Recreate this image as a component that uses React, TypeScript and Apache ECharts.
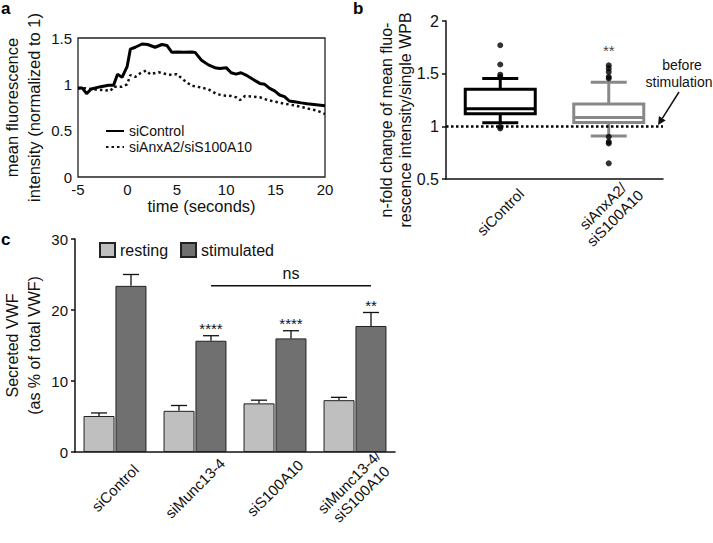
import React, { useEffect, useRef } from 'react';
import * as echarts from 'echarts';

const FONT = "'Liberation Sans', Arial, Helvetica, sans-serif";

// ---------- Panel a: time course ----------
const timeControl = [-5, -4.56, -4.13, -3.66, -2.7, -1.9, -1.4, -1.0, -0.54, -0.03, 0.3, 0.8, 1.48, 2.05, 2.8, 3.5, 4.0, 4.5, 5.17, 5.67, 6.5, 6.85, 7.5, 8.2, 8.85, 9.36, 10.0, 10.5, 11.0, 11.5, 12.0, 12.7, 13.4, 13.9, 14.4, 14.9, 15.4, 15.9, 16.4, 16.9, 17.6, 18.2, 19.1, 20];
const valuesControl = [0.96, 0.96, 0.9, 0.95, 0.975, 0.99, 0.99, 1.11, 1.075, 1.19, 1.38, 1.4, 1.435, 1.43, 1.4, 1.43, 1.42, 1.345, 1.35, 1.345, 1.35, 1.345, 1.26, 1.21, 1.18, 1.17, 1.18, 1.125, 1.11, 1.125, 1.1, 1.054, 1.01, 1.0, 0.957, 0.93, 0.885, 0.867, 0.82, 0.813, 0.8, 0.79, 0.78, 0.77];
const timeAnx = [-5, -4.2, -3.5, -2.7, -1.7, -1.4, -0.55, -0.03, 0.3, 0.8, 1.3, 1.9, 2.3, 3.15, 4.0, 4.5, 5.0, 5.7, 6.5, 7.35, 8.2, 9.0, 9.7, 10.5, 11.0, 11.4, 11.9, 12.7, 13.4, 14.0, 14.9, 15.7, 16.7, 17.75, 18.6, 19.2, 20];
const valuesAnx = [0.957, 0.957, 0.946, 0.94, 0.93, 0.975, 0.975, 1.0, 1.1, 1.08, 1.12, 1.15, 1.11, 1.13, 1.11, 1.1, 1.11, 1.047, 0.985, 0.968, 0.946, 0.896, 0.88, 0.874, 0.86, 0.83, 0.874, 0.867, 0.86, 0.838, 0.813, 0.795, 0.777, 0.752, 0.73, 0.716, 0.68];
const seriesNamesA = ['siControl', 'siAnxA2/siS100A10'];

// ---------- Panel b: box plots ----------
const categoriesB = ['siControl', 'siAnxA2/\nsiS100A10'];
// [whisker low, Q1, median, Q3, whisker high]
const boxControl = [1.034, 1.12, 1.168, 1.353, 1.454];
const boxAnx = [0.908, 1.036, 1.085, 1.212, 1.418];
const outliersControl = [1.77, 1.587, 1.49, 1.47, 0.996, 0.98];
const outliersAnx = [1.58, 1.55, 1.517, 1.47, 1.454, 0.9, 0.853, 0.838, 0.649];
const starsB = ['', '**'];
const starsBLevel = [0, 1.72];

// ---------- Panel c: secreted VWF ----------
const categoriesC = ['siControl', 'siMunc13-4', 'siS100A10', 'siMunc13-4/\nsiS100A10'];
const resting = [5.07, 5.8, 6.85, 7.3];
const restingSem = [0.43, 0.75, 0.45, 0.4];
const stimulated = [23.4, 15.67, 16.0, 17.75];
const stimulatedSem = [1.6, 0.71, 1.08, 1.9];
const starsC = ['', '****', '****', '**'];
const nsComparison = [1, 3, 23.4]; // from category, to category, level

const BAR_W = 31;
const BAR_OFF = 16;

export default function App() {
  const ref = useRef<HTMLDivElement>(null);

  useEffect(() => {
    if (!ref.current) return;
    const chart = echarts.init(ref.current, null, { renderer: 'svg' });

    const errorRender = (offset: number, withStars: boolean) => (params: any, api: any) => {
      const idx = api.value(0);
      const mean = api.value(1);
      const err = api.value(2);
      const p0 = api.coord([idx, mean]);
      const p1 = api.coord([idx, mean + err]);
      const cx = p0[0] + offset;
      const children: any[] = [
        { type: 'line', shape: { x1: cx, y1: p0[1], x2: cx, y2: p1[1] }, style: { stroke: '#111', lineWidth: 1.3 } },
        { type: 'line', shape: { x1: cx - 8, y1: p1[1], x2: cx + 8, y2: p1[1] }, style: { stroke: '#111', lineWidth: 1.3 } },
      ];
      if (withStars && starsC[idx]) {
        children.push({
          type: 'text', x: cx, y: p1[1] - 7,
          style: { text: starsC[idx], align: 'center', verticalAlign: 'middle', fontSize: 15, fontFamily: FONT, fill: '#111' },
        });
      }
      return { type: 'group', children };
    };

    const boxColors = ['#000000', '#888888'];
    const boxRender = (params: any, api: any) => {
      const idx = api.value(0);
      const v = [1, 2, 3, 4, 5].map((i) => api.value(i));
      const y = (val: number) => api.coord([idx, val])[1];
      const cx = api.coord([idx, v[2]])[0];
      const half = 35;
      const cap = 18;
      const style = { stroke: boxColors[idx], lineWidth: 3, fill: 'none' };
      return {
        type: 'group',
        children: [
          { type: 'line', shape: { x1: cx, y1: y(v[4]), x2: cx, y2: y(v[3]) }, style },
          { type: 'line', shape: { x1: cx, y1: y(v[1]), x2: cx, y2: y(v[0]) }, style },
          { type: 'line', shape: { x1: cx - cap, y1: y(v[4]), x2: cx + cap, y2: y(v[4]) }, style },
          { type: 'line', shape: { x1: cx - cap, y1: y(v[0]), x2: cx + cap, y2: y(v[0]) }, style },
          { type: 'rect', shape: { x: cx - half, y: y(v[3]), width: 2 * half, height: y(v[1]) - y(v[3]) }, style: { ...style, fill: '#fff' } },
          { type: 'line', shape: { x1: cx - half, y1: y(v[2]), x2: cx + half, y2: y(v[2]) }, style },
        ],
      };
    };

    const nsRender = (params: any, api: any) => {
      const a = api.value(0);
      const b = api.value(1);
      const lvl = api.value(2);
      const p0 = api.coord([a, lvl]);
      const p1 = api.coord([b, lvl]);
      const x1 = p0[0] + BAR_OFF;
      const x2 = p1[0] + BAR_OFF;
      return {
        type: 'group',
        children: [
          { type: 'line', shape: { x1, y1: p0[1], x2, y2: p0[1] }, style: { stroke: '#111', lineWidth: 1.5 } },
          { type: 'text', x: (x1 + x2) / 2, y: p0[1] - 12, style: { text: 'ns', align: 'center', verticalAlign: 'middle', fontSize: 16, fontFamily: FONT, fill: '#111' } },
        ],
      };
    };

    const axisText = { color: '#111', fontFamily: FONT, fontWeight: 'normal' };

    const option: any = {
      animation: false,
      backgroundColor: '#fff',
      textStyle: { fontFamily: FONT },
      grid: [
        { left: 77, top: 38, width: 248, height: 139, show: true, borderColor: '#222', borderWidth: 1.3, backgroundColor: 'transparent' },
        { left: 446, top: 21, width: 217, height: 158 },
        { left: 75, top: 239, width: 320, height: 213 },
      ],
      legend: [
        {
          data: seriesNamesA, orient: 'vertical', left: 100, top: 119, itemWidth: 18, itemHeight: 14, itemGap: 2,
          itemStyle: { opacity: 0, color: 'transparent', borderWidth: 0 },
          textStyle: { fontSize: 14, color: '#111', fontFamily: FONT },
        },
        {
          data: ['resting', 'stimulated'], orient: 'horizontal', left: 94, top: 237, itemWidth: 15, itemHeight: 14, itemGap: 12, icon: 'rect',
          textStyle: { fontSize: 16, color: '#111', fontFamily: FONT },
        },
      ],
      xAxis: [
        {
          type: 'value', gridIndex: 0, min: -5, max: 20, interval: 5,
          axisLine: { show: false }, axisTick: { show: false }, splitLine: { show: false },
          axisLabel: { ...axisText, fontSize: 15, margin: 5 },
          name: 'time (seconds)', nameLocation: 'middle', nameGap: 14,
          nameTextStyle: { ...axisText, fontSize: 16.5 },
        },
        {
          type: 'category', gridIndex: 1, data: categoriesB,
          axisLine: { lineStyle: { color: '#111', width: 1.5 } }, axisTick: { show: false },
          axisLabel: { ...axisText, fontSize: 15, rotate: 45, align: 'center', verticalAlign: 'middle', margin: 33, interval: 0, lineHeight: 17 },
        },
        {
          type: 'category', gridIndex: 2, data: categoriesC,
          axisLine: { lineStyle: { color: '#111', width: 1.5 } }, axisTick: { show: false },
          axisLabel: { ...axisText, fontSize: 15, rotate: 45, align: 'center', verticalAlign: 'middle', margin: 36, interval: 0, lineHeight: 17 },
        },
      ],
      yAxis: [
        {
          type: 'value', gridIndex: 0, min: 0, max: 1.5, interval: 0.5,
          axisLine: { show: false }, axisTick: { show: false }, splitLine: { show: false },
          axisLabel: { ...axisText, fontSize: 15, margin: 6 },
          name: 'mean fluorescence\nintensity (normalized to 1)', nameLocation: 'middle', nameRotate: 90, nameGap: 33,
          nameTextStyle: { ...axisText, fontSize: 16.5, lineHeight: 22 },
        },
        {
          type: 'value', gridIndex: 1, min: 0.5, max: 2, interval: 0.5,
          axisLine: { show: true, lineStyle: { color: '#111', width: 1.5 } },
          axisTick: { show: true, length: 4, lineStyle: { color: '#111', width: 1.5 } },
          splitLine: { show: false },
          axisLabel: { ...axisText, fontSize: 16, margin: 7 },
        },
        {
          type: 'value', gridIndex: 2, min: 0, max: 30, interval: 10,
          axisLine: { show: true, lineStyle: { color: '#111', width: 1.5 } },
          axisTick: { show: true, length: 4, lineStyle: { color: '#111', width: 1.5 } },
          splitLine: { show: false },
          axisLabel: { ...axisText, fontSize: 15, margin: 7 },
          name: 'Secreted VWF\n(as % of total VWF)', nameLocation: 'middle', nameRotate: 90, nameGap: 30,
          nameTextStyle: { ...axisText, fontSize: 16, lineHeight: 22 },
        },
      ],
      series: [
        {
          name: seriesNamesA[0], type: 'line', xAxisIndex: 0, yAxisIndex: 0, symbol: 'none', showSymbol: false,
          data: timeControl.map((t, i) => [t, valuesControl[i]]),
          lineStyle: { color: '#000', width: 3 }, itemStyle: { color: '#000' }, z: 3,
        },
        {
          name: seriesNamesA[1], type: 'line', xAxisIndex: 0, yAxisIndex: 0, symbol: 'none', showSymbol: false,
          data: timeAnx.map((t, i) => [t, valuesAnx[i]]),
          lineStyle: { color: '#111', width: 2.5, type: [2.5, 3] }, itemStyle: { color: '#111' }, z: 2,
        },
        {
          type: 'custom', xAxisIndex: 1, yAxisIndex: 1, renderItem: boxRender,
          encode: { x: 0, y: 3 },
          data: [[0, ...boxControl], [1, ...boxAnx]],
          markLine: {
            silent: true, symbol: 'none', label: { show: false },
            lineStyle: { color: '#000', width: 2.5, type: [2.5, 2.5] },
            data: [{ yAxis: 1 }],
          },
          z: 2,
        },
        {
          type: 'scatter', xAxisIndex: 1, yAxisIndex: 1, symbol: 'circle', symbolSize: 6,
          itemStyle: { color: '#000' },
          data: [...outliersControl.map((v) => [0, v]), ...outliersAnx.map((v) => [1, v])],
          z: 4,
        },
        {
          type: 'scatter', xAxisIndex: 1, yAxisIndex: 1, symbolSize: 0,
          data: starsB.map((s, i) => [i, starsBLevel[i]]).filter((d, i) => starsB[i]),
          label: { show: true, position: 'inside', formatter: (p: any) => starsB[p.value[0]], fontSize: 15, color: '#111', fontFamily: FONT },
        },
        {
          name: 'resting', type: 'bar', xAxisIndex: 2, yAxisIndex: 2, data: resting,
          barWidth: BAR_W, barGap: '3%',
          itemStyle: { color: '#bfbfbf', borderColor: '#222', borderWidth: 1 },
        },
        {
          name: 'stimulated', type: 'bar', xAxisIndex: 2, yAxisIndex: 2, data: stimulated,
          barWidth: BAR_W, barGap: '3%',
          itemStyle: { color: '#707070', borderColor: '#222', borderWidth: 1 },
        },
        {
          type: 'custom', xAxisIndex: 2, yAxisIndex: 2, renderItem: errorRender(-BAR_OFF, false),
          encode: { x: 0, y: 1 },
          data: resting.map((v, i) => [i, v, restingSem[i]]), z: 3,
        },
        {
          type: 'custom', xAxisIndex: 2, yAxisIndex: 2, renderItem: errorRender(BAR_OFF, true),
          encode: { x: 0, y: 1 },
          data: stimulated.map((v, i) => [i, v, stimulatedSem[i]]), z: 3,
        },
        {
          type: 'custom', xAxisIndex: 2, yAxisIndex: 2, renderItem: nsRender,
          encode: { x: 0, y: 2 },
          data: [nsComparison], z: 3,
        },
      ],
      graphic: [
        { type: 'text', left: 1, top: 0, style: { text: 'a', fontSize: 17, fontWeight: 'bold', fontFamily: FONT, fill: '#000' } },
        { type: 'text', left: 353, top: 0, style: { text: 'b', fontSize: 17, fontWeight: 'bold', fontFamily: FONT, fill: '#000' } },
        { type: 'text', left: 1, top: 231, style: { text: 'c', fontSize: 17, fontWeight: 'bold', fontFamily: FONT, fill: '#000' } },
        {
          type: 'text', x: 396, y: 120, rotation: Math.PI / 2,
          style: { text: 'n-fold change of mean fluo-\nrescence intensity/single WPB', align: 'center', verticalAlign: 'middle', fontSize: 16, lineHeight: 19, fontFamily: FONT, fill: '#111' },
        },
        { type: 'text', x: 682, y: 65, style: { text: 'before', align: 'center', verticalAlign: 'middle', fontSize: 14, fontFamily: FONT, fill: '#111' } },
        { type: 'text', x: 679, y: 82, style: { text: 'stimulation', align: 'center', verticalAlign: 'middle', fontSize: 14, fontFamily: FONT, fill: '#111' } },
        { type: 'line', shape: { x1: 679, y1: 92, x2: 662.3, y2: 118.3 }, style: { stroke: '#111', lineWidth: 1.5 } },
        { type: 'polygon', shape: { points: [[658, 125], [665.7, 120.4], [658.9, 116.1]] }, style: { fill: '#111' } },
      ],
    };

    chart.setOption(option);
    return () => chart.dispose();
  }, []);

  return <div ref={ref} style={{ position: 'absolute', left: 0, top: 0, width: 713, height: 543 }} />;
}
